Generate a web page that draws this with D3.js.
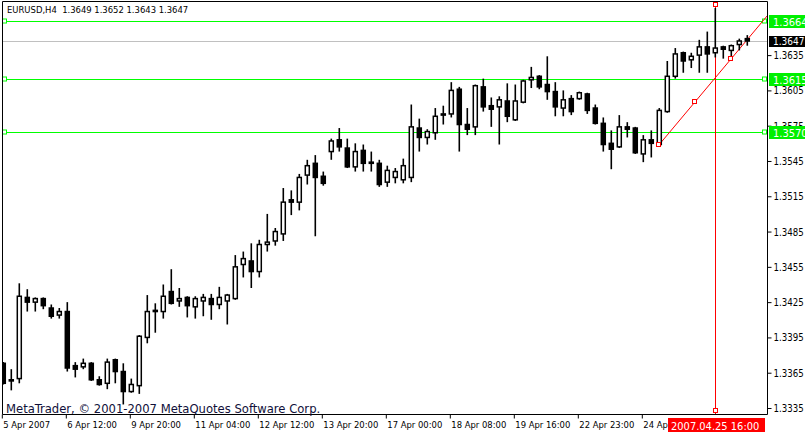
<!DOCTYPE html>
<meta charset="utf-8">
<style>
    body { margin: 0; background: #fff; }
    svg text { font-family: "DejaVu Sans Condensed", "DejaVu Sans", sans-serif; }
    .axis path.domain { display: none; }
    .axis line { stroke: #000; }
    .axis text { fill: #000; }
</style>
<body>
<script src="https://cdn.jsdelivr.net/npm/d3@7/dist/d3.min.js"></script>
<script>

    var width = 805;
    var height = 432;

    // EURUSD H4, 94 bars
    var opens = [1.3373,1.3359,1.3360,1.3429,1.3425,1.3428,1.3420,1.3414,1.3417,1.3371,
        1.3370,1.3373,1.3359,1.3356,1.3376,1.3366,1.3349,1.3354,1.3395,1.3418,
        1.3417,1.3434,1.3426,1.3429,1.3421,1.3426,1.3428,1.3423,1.3426,1.3428,
        1.3457,1.3460,1.3451,1.3474,1.3477,1.3483,1.3512,1.3510,1.3533,1.3543,
        1.3532,1.3553,1.3563,1.3556,1.3540,1.3554,1.3544,1.3543,1.3527,1.3531,
        1.3529,1.3531,1.3573,1.3565,1.3569,1.3584,1.3585,1.3606,1.3576,1.3574,
        1.3608,1.3592,1.3591,1.3596,1.3580,1.3595,1.3614,1.3617,1.3610,1.3604,
        1.3590,1.3598,1.3598,1.3602,1.3590,1.3577,1.3560,1.3557,1.3574,1.3573,
        1.3551,1.3563,1.3559,1.3587,1.3617,1.3637,1.3631,1.3635,1.3642,1.3637,
        1.3642,1.3639,1.3644,1.3649];
    var highs = [1.3374,1.3368,1.3441,1.3436,1.3429,1.3429,1.3423,1.3420,1.3425,1.3374,
        1.3377,1.3374,1.3362,1.3377,1.3377,1.3373,1.3360,1.3397,1.3431,1.3424,
        1.3440,1.3453,1.3437,1.3430,1.3430,1.3432,1.3432,1.3438,1.3432,1.3465,
        1.3468,1.3475,1.3478,1.3500,1.3488,1.3522,1.3520,1.3534,1.3546,1.3550,
        1.3536,1.3564,1.3573,1.3564,1.3560,1.3559,1.3553,1.3546,1.3541,1.3539,
        1.3547,1.3593,1.3581,1.3572,1.3590,1.3592,1.3612,1.3608,1.3590,1.3610,
        1.3615,1.3599,1.3600,1.3611,1.3610,1.3614,1.3625,1.3618,1.3634,1.3612,
        1.3605,1.3601,1.3604,1.3603,1.3593,1.3582,1.3571,1.3584,1.3578,1.3574,
        1.3567,1.3571,1.3590,1.3630,1.3641,1.3638,1.3637,1.3648,1.3655,1.3675,
        1.3643,1.3644,1.3649,1.3652];
    var lows = [1.3355,1.3350,1.3356,1.3417,1.3417,1.3419,1.3411,1.3411,1.3366,1.3361,
        1.3368,1.3358,1.3354,1.3351,1.3356,1.3338,1.3348,1.3347,1.3390,1.3399,
        1.3411,1.3423,1.3421,1.3412,1.3411,1.3413,1.3410,1.3419,1.3406,1.3427,
        1.3446,1.3437,1.3446,1.3468,1.3473,1.3477,1.3499,1.3503,1.3525,1.3481,
        1.3524,1.3546,1.3553,1.3539,1.3536,1.3536,1.3536,1.3523,1.3523,1.3526,
        1.3526,1.3527,1.3553,1.3559,1.3563,1.3576,1.3582,1.3553,1.3567,1.3567,
        1.3587,1.3574,1.3559,1.3578,1.3579,1.3594,1.3607,1.3606,1.3597,1.3583,
        1.3583,1.3584,1.3597,1.3585,1.3576,1.3553,1.3538,1.3556,1.3565,1.3551,
        1.3544,1.3548,1.3558,1.3586,1.3615,1.3620,1.3624,1.3620,1.3620,1.3633,
        1.3632,1.3633,1.3639,1.3643];
    var closes = [1.3356,1.3358,1.3430,1.3425,1.3428,1.3422,1.3413,1.3417,1.3369,1.3368,
        1.3373,1.3359,1.3355,1.3374,1.3366,1.3349,1.3355,1.3396,1.3417,1.3417,
        1.3430,1.3424,1.3428,1.3422,1.3428,1.3429,1.3423,1.3429,1.3431,1.3455,
        1.3462,1.3451,1.3474,1.3476,1.3485,1.3510,1.3510,1.3531,1.3541,1.3531,
        1.3526,1.3562,1.3557,1.3540,1.3553,1.3543,1.3543,1.3525,1.3537,1.3536,
        1.3541,1.3574,1.3565,1.3570,1.3583,1.3585,1.3605,1.3576,1.3572,1.3609,
        1.3591,1.3589,1.3597,1.3583,1.3596,1.3613,1.3616,1.3608,1.3604,1.3591,
        1.3597,1.3587,1.3603,1.3588,1.3577,1.3559,1.3555,1.3574,1.3572,1.3552,
        1.3563,1.3560,1.3588,1.3617,1.3636,1.3630,1.3634,1.3642,1.3636,1.3641,
        1.3640,1.3643,1.3647,1.3647];

    var priceTicks = [1.3335, 1.3365, 1.3395, 1.3425, 1.3455, 1.3485, 1.3515, 1.3545, 1.3575, 1.3605, 1.3635];
    var timeTickBars = [0, 8, 16, 24, 32, 40, 48, 56, 64, 72, 80];
    var timeTickLabels = ["5 Apr 2007", "6 Apr 12:00", "9 Apr 20:00", "11 Apr 04:00", "12 Apr 12:00",
        "13 Apr 20:00", "17 Apr 00:00", "18 Apr 08:00", "19 Apr 16:00", "22 Apr 23:00", "24 Apr 07:00"];

    var greenLevels = [1.3664, 1.3615, 1.3570];
    var bidPrice = 1.3647;
    var trendBars = [82, 91];
    var trendPrices = [1.3559, 1.3632];
    var vlineBar = 89;
    var vlineLabel = "2007.04.25 16:00";

    var LEFT = 2.5, TOP = 1.5, RIGHT = 767.5, BOTTOM = 414.5;
    var BODY_W = 4;

    var bars = opens.map(function (o, i) {
        return {i: i, o: o, h: highs[i], l: lows[i], c: closes[i]};
    });

    var x = d3.scaleLinear().domain([0, 93]).range([3.3, 747.3]);
    var y = d3.scaleLinear().domain([1.3335, 1.3664]).range([408, 21]);

    var svg = d3.select("body").append("svg")
        .attr("width", width)
        .attr("height", height);

    svg.append("defs").append("clipPath").attr("id", "plot")
        .append("rect")
        .attr("x", LEFT + 0.5).attr("y", TOP + 0.5)
        .attr("width", RIGHT - LEFT - 1).attr("height", BOTTOM - TOP - 1);

    var plot = svg.append("g").attr("clip-path", "url(#plot)");

    // horizontal levels
    plot.append("line")
        .attr("x1", LEFT).attr("x2", RIGHT)
        .attr("y1", Math.round(y(bidPrice)) + 0.5).attr("y2", Math.round(y(bidPrice)) + 0.5)
        .attr("stroke", "#c0c0c0");

    greenLevels.forEach(function (p) {
        var yy = Math.round(y(p)) + 0.5;
        plot.append("line")
            .attr("x1", LEFT).attr("x2", RIGHT)
            .attr("y1", yy).attr("y2", yy)
            .attr("stroke", "#00ff00");
        [5, 765].forEach(function (sx) {
            plot.append("rect")
                .attr("x", sx - 2.5).attr("y", yy - 2.5)
                .attr("width", 4).attr("height", 4)
                .attr("fill", "#fff").attr("stroke", "#00ff00");
        });
    });

    // vertical line
    var vx = Math.round(x(vlineBar)) + 0.5;
    plot.append("line")
        .attr("x1", vx).attr("x2", vx)
        .attr("y1", TOP).attr("y2", BOTTOM)
        .attr("stroke", "#ff0000");

    // trend line (ray to the right)
    var tx1 = x(trendBars[0]), ty1 = y(trendPrices[0]);
    var tx2 = x(trendBars[1]), ty2 = y(trendPrices[1]);
    var slope = (ty2 - ty1) / (tx2 - tx1);
    plot.append("line")
        .attr("x1", tx1).attr("y1", ty1)
        .attr("x2", RIGHT).attr("y2", ty1 + slope * (RIGHT - tx1))
        .attr("stroke", "#ff0000").attr("stroke-width", 1);

    // candles
    var candle = plot.selectAll("g.bar")
        .data(bars)
        .enter()
        .append("g")
        .attr("class", "bar");

    candle.append("line")
        .attr("x1", function (d) { return x(d.i); })
        .attr("x2", function (d) { return x(d.i); })
        .attr("y1", function (d) { return y(d.h); })
        .attr("y2", function (d) { return y(d.l); })
        .attr("stroke", "#000")
        .attr("stroke-width", 1.6);

    candle.append("rect")
        .attr("x", function (d) { return x(d.i) - BODY_W / 2; })
        .attr("width", BODY_W)
        .attr("y", function (d) { return y(Math.max(d.o, d.c)); })
        .attr("height", function (d) { return Math.max(0.5, Math.abs(y(d.o) - y(d.c))); })
        .attr("fill", function (d) { return d.c < d.o ? "#000" : "#fff"; })
        .attr("stroke", "#000")
        .attr("stroke-width", 1.5);

    // trend line and vertical line anchors
    var tmid = [(tx1 + tx2) / 2, (ty1 + ty2) / 2];
    [[tx1, ty1], tmid, [tx2, ty2], [vx, 5], [vx, 411]].forEach(function (p) {
        svg.append("rect")
            .attr("x", Math.round(p[0]) - 2.5).attr("y", Math.round(p[1]) - 2.5)
            .attr("width", 4).attr("height", 4)
            .attr("fill", "#fff").attr("stroke", "#ff0000");
    });

    // frame
    svg.append("path")
        .attr("d", "M" + LEFT + "," + TOP + "H" + RIGHT + "V" + BOTTOM + "H" + LEFT + "Z")
        .attr("fill", "none").attr("stroke", "#000");

    // price axis
    var yAxis = svg.append("g")
        .attr("class", "axis")
        .attr("transform", "translate(" + RIGHT + ",0)")
        .call(d3.axisRight(y)
            .tickValues(priceTicks)
            .tickSize(4)
            .tickSizeOuter(0)
            .tickPadding(2)
            .tickFormat(d3.format(".4f")));
    yAxis.selectAll("text").style("font-size", "9.6px").attr("dy", "0.36em");

    // time axis
    var xTick = d3.scaleLinear().domain([0, 93]).range([3.3 - 1.5, 747.3 - 1.5]);
    var xAxis = svg.append("g")
        .attr("class", "axis")
        .attr("transform", "translate(0," + BOTTOM + ")")
        .call(d3.axisBottom(xTick)
            .tickValues(timeTickBars)
            .tickSize(4)
            .tickSizeOuter(0)
            .tickFormat(function (d) { return timeTickLabels[timeTickBars.indexOf(d)]; }));
    xAxis.selectAll("text")
        .attr("text-anchor", "start")
        .attr("x", 1)
        .attr("y", 13.5)
        .attr("dy", 0)
        .style("font-size", "9.4px");

    // level labels on the price axis
    greenLevels.forEach(function (p) {
        var yy = Math.round(y(p));
        svg.append("rect")
            .attr("x", 769).attr("y", yy - 6)
            .attr("width", 40).attr("height", 13)
            .attr("fill", "#00f000");
        svg.append("text")
            .attr("x", 773).attr("y", yy + 4.5)
            .attr("fill", "#fff")
            .style("font-size", "11px")
            .text(d3.format(".4f")(p));
    });

    var by = Math.round(y(bidPrice));
    svg.append("rect")
        .attr("x", 769).attr("y", by - 5)
        .attr("width", 40).attr("height", 11)
        .attr("fill", "#000");
    svg.append("text")
        .attr("x", 773).attr("y", by + 4)
        .attr("fill", "#fff")
        .style("font-size", "10px")
        .text(d3.format(".4f")(bidPrice));

    // time label of the vertical line
    svg.append("rect")
        .attr("x", 668).attr("y", 418)
        .attr("width", 97).attr("height", 14)
        .attr("fill", "#ff0000");
    svg.append("text")
        .attr("x", 671).attr("y", 429.5)
        .attr("fill", "#fff")
        .style("font-size", "11px")
        .text(vlineLabel);

    // header and copyright
    var last = bars[bars.length - 1];
    var f4 = d3.format(".4f");
    svg.append("text")
        .attr("x", 7).attr("y", 13)
        .style("font-size", "9.4px")
        .style("white-space", "pre")
        .text("EURUSD,H4  " + [last.o, last.h, last.l, last.c].map(f4).join(" "));

    svg.append("text")
        .attr("x", 6).attr("y", 413)
        .style("font-size", "12.9px")
        .attr("fill", "#10103a")
        .text("MetaTrader, \u00a9 2001-2007 MetaQuotes Software Corp.");

</script>
</body>
</html>
